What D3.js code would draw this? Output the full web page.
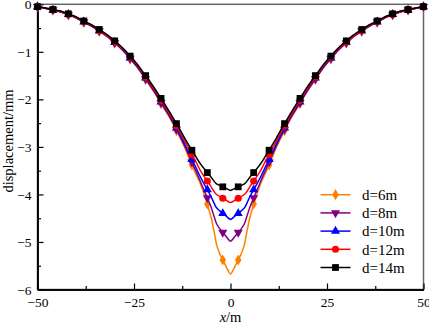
<!DOCTYPE html>
<html>
<head>
<meta charset="utf-8">
<script src="https://cdn.jsdelivr.net/npm/d3@7"></script>
<style>
  body { margin: 0; background: #fff; }
  svg text { font-family: "Liberation Serif", "DejaVu Serif", serif; }
</style>
</head>
<body>
<script>
// Data
const xs = [-50, -46, -42, -38, -34, -30, -26, -22, -18, -14, -10, -6, -2,
            2, 6, 10, 14, 18, 22, 26, 30, 34, 38, 42, 46, 50]
const d6 = [-0.05, -0.12, -0.22, -0.38, -0.57, -0.82, -1.15, -1.58, -2.09, -2.66, -3.38, -4.20, -5.38,
            -5.38, -4.20, -3.38, -2.66, -2.09, -1.58, -1.15, -0.82, -0.57, -0.38, -0.22, -0.12, -0.05]
const d8 = [-0.05, -0.12, -0.22, -0.37, -0.56, -0.81, -1.14, -1.57, -2.07, -2.63, -3.32, -4.07, -4.80,
            -4.80, -4.07, -3.32, -2.63, -2.07, -1.57, -1.14, -0.81, -0.56, -0.37, -0.22, -0.12, -0.05]
const d10 = [-0.05, -0.12, -0.21, -0.37, -0.56, -0.80, -1.13, -1.55, -2.05, -2.60, -3.26, -3.90, -4.40,
             -4.40, -3.90, -3.26, -2.60, -2.05, -1.55, -1.13, -0.80, -0.56, -0.37, -0.21, -0.12, -0.05]
const d12 = [-0.05, -0.12, -0.21, -0.36, -0.55, -0.79, -1.11, -1.53, -2.02, -2.56, -3.16, -3.72, -4.08,
             -4.08, -3.72, -3.16, -2.56, -2.02, -1.53, -1.11, -0.79, -0.55, -0.36, -0.21, -0.12, -0.05]
const d14 = [-0.05, -0.11, -0.20, -0.35, -0.53, -0.77, -1.09, -1.50, -1.98, -2.51, -3.07, -3.54, -3.84,
             -3.84, -3.54, -3.07, -2.51, -1.98, -1.50, -1.09, -0.77, -0.53, -0.35, -0.20, -0.11, -0.05]
const seriesNames = ["d=6m", "d=8m", "d=10m", "d=12m", "d=14m"]
const xTicks = [-50, -25, 0, 25, 50]
const xMinor = [-37.5, -12.5, 12.5, 37.5]
const yTicks = [0, -1, -2, -3, -4, -5, -6]
const yMinor = [-0.5, -1.5, -2.5, -3.5, -4.5, -5.5]

// Styles
const font = "'Liberation Serif', 'DejaVu Serif', serif"
const colors = ["#FF8000", "#800080", "#0000FF", "#FF0000", "#000000"]
const symbols = [d3.symbolDiamond, "down", d3.symbolTriangle, d3.symbolCircle, d3.symbolSquare]
const sizes = [36, 36, 36, 40, 46]

const width = 429
const height = 326
const margin = {left: 37.5, right: 5.5, top: 4.3, bottom: 36.5}

const svg = d3.select("body").append("svg")
    .attr("width", width)
    .attr("height", height)
    .style("display", "block")

const xScale = d3.scaleLinear().domain([-50, 50]).range([margin.left, width - margin.right])
const yScale = d3.scaleLinear().domain([-6, 0]).range([height - margin.bottom, margin.top])

// Frame
svg.append("rect")
    .attr("x", xScale(-50)).attr("y", yScale(0))
    .attr("width", xScale(50) - xScale(-50))
    .attr("height", yScale(-6) - yScale(0))
    .attr("fill", "none")
    .attr("stroke", "#666")
    .attr("stroke-width", 1.5)

// Axes
const fmt = d => d === 0 ? "0" : d3.format("")(d).replace("-", "\u2212")
const xAxis = svg.append("g")
    .attr("transform", `translate(0, ${yScale(-6)})`)
    .call(d3.axisBottom(xScale).tickValues(xTicks).tickSizeInner(-6).tickSizeOuter(0).tickFormat(fmt))
const xAxisMinor = svg.append("g")
    .attr("transform", `translate(0, ${yScale(-6)})`)
    .call(d3.axisBottom(xScale).tickValues(xMinor).tickSizeInner(-3.5).tickSizeOuter(0).tickFormat(""))
const yAxis = svg.append("g")
    .attr("transform", `translate(${xScale(-50)}, 0)`)
    .call(d3.axisLeft(yScale).tickValues(yTicks).tickSizeInner(-6).tickSizeOuter(0).tickFormat(fmt))
const yAxisMinor = svg.append("g")
    .attr("transform", `translate(${xScale(-50)}, 0)`)
    .call(d3.axisLeft(yScale).tickValues(yMinor).tickSizeInner(-3.5).tickSizeOuter(0).tickFormat(""))

for (const ax of [xAxis, xAxisMinor, yAxis, yAxisMinor]) {
    ax.attr("font-family", font).attr("font-size", 13.5)
    ax.select(".domain").attr("stroke", "#000").attr("stroke-width", 1.5)
    ax.selectAll(".tick line").attr("stroke", "#000").attr("stroke-width", 1.2)
    ax.selectAll("text").attr("fill", "#000")
}
yAxis.selectAll("text").attr("x", -6).attr("dy", "0.34em")
xAxis.selectAll("text").attr("y", 17.5).attr("dy", null)

// Axis titles
svg.append("text")
    .attr("transform", `translate(12.5, 141) rotate(-90)`)
    .attr("text-anchor", "middle")
    .attr("font-family", font)
    .attr("font-size", 14.5)
    .text("displacement/mm")

const xt = svg.append("text")
    .attr("x", xScale(0))
    .attr("y", 322)
    .attr("text-anchor", "middle")
    .attr("font-family", font)
    .attr("font-size", 14.5)
xt.append("tspan").style("font-style", "italic").text("x")
xt.append("tspan").text("/m")

// Series
const allSeries = [d6, d8, d10, d12, d14]
const line = d3.line()
    .x((d, i) => xScale(xs[i]))
    .y(d => yScale(d))
    .curve(d3.curveCardinal.tension(-1))

const symbolPath = (k, size) => {
    if (symbols[k] === "down") return d3.symbol(d3.symbolTriangle, size)()
    return d3.symbol(symbols[k], size)()
}
const symbolRot = k => symbols[k] === "down" ? " rotate(180)" : ""

allSeries.forEach((vals, k) => {
    svg.append("path")
        .datum(vals)
        .attr("d", line)
        .attr("fill", "none")
        .attr("stroke", colors[k])
        .attr("stroke-width", 1.5)
    svg.selectAll(".pt" + k)
        .data(vals).enter().append("path")
        .attr("class", "pt" + k)
        .attr("d", symbolPath(k, sizes[k]))
        .attr("transform", (d, i) => `translate(${xScale(xs[i])}, ${yScale(d)})${symbolRot(k)}`)
        .attr("fill", colors[k])
})

// Legend
const legend = svg.append("g")
seriesNames.forEach((name, k) => {
    const y = 194.7 + k * 18.2
    legend.append("line")
        .attr("x1", 320.5).attr("x2", 350.5)
        .attr("y1", y).attr("y2", y)
        .attr("stroke", colors[k])
        .attr("stroke-width", 1.5)
    legend.append("path")
        .attr("d", symbolPath(k, sizes[k]))
        .attr("transform", `translate(335.5, ${y})${symbolRot(k)}`)
        .attr("fill", colors[k])
    legend.append("text")
        .attr("x", 362)
        .attr("y", y)
        .attr("dy", "0.35em")
        .attr("font-family", font)
        .attr("font-size", 15)
        .text(name)
})
</script>
</body>
</html>
